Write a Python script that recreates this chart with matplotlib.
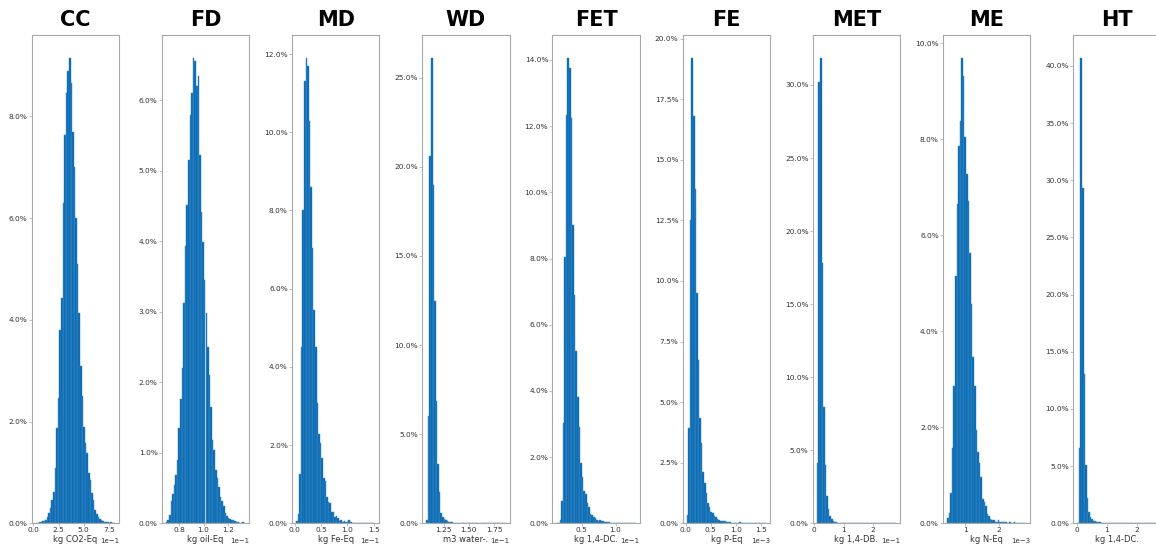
import numpy as np
import matplotlib
matplotlib.use("Agg")
import matplotlib.pyplot as plt
from matplotlib.ticker import PercentFormatter, ScalarFormatter

titles = ["CC", "FD", "MD", "WD", "FET", "FE", "MET", "ME", "HT"]
xlabels = ["kg CO2-Eq", "kg oil-Eq", "kg Fe-Eq", "m3 water-.", "kg 1,4-DC.",
           "kg P-Eq", "kg 1,4-DB.", "kg N-Eq", "kg 1,4-DC."]

# data range (min, max) of each impact category
ranges = [(0.0227, 0.810), (0.069, 0.1341), (0.0025, 0.153), (0.1077, 0.1864),
          (0.0127, 0.130), (0.00002, 0.00159), (0.009, 0.278), (0.000455, 0.00281),
          (0.005, 2.67)]

# share of samples per bin (%), 50 bins each
h_cc = [0.01, 0.01, 0.02, 0.02, 0.04, 0.05, 0.06, 0.12, 0.2, 0.3,
        0.46, 0.62, 1.08, 1.87, 2.46, 3.8, 4.43, 6.3, 7.64, 8.46,
        8.9, 9.15, 8.66, 7.7, 7.0, 6.0, 5.1, 4.13, 3.1, 2.5,
        1.9, 1.57, 1.38, 0.98, 0.85, 0.6, 0.45, 0.26, 0.18, 0.13,
        0.08, 0.06, 0.04, 0.03, 0.02, 0.02, 0.01, 0.02, 0.01, 0.01]
h_fd = [0.02, 0.05, 0.12, 0.31, 0.42, 0.54, 0.69, 0.9, 1.35, 1.77,
        2.2, 3.12, 3.93, 4.52, 5.15, 5.79, 6.1, 6.6, 6.56, 6.2,
        6.35, 5.22, 4.42, 3.99, 3.45, 2.98, 2.5, 2.1, 1.65, 1.18,
        1.04, 0.76, 0.64, 0.52, 0.38, 0.31, 0.24, 0.15, 0.1, 0.08,
        0.06, 0.05, 0.04, 0.03, 0.02, 0.02, 0.01, 0.01, 0.02, 0.01]
h_md = [0.05, 0.24, 1.26, 4.52, 8.0, 11.3, 11.9, 11.7, 10.3, 8.6,
        7.03, 5.46, 4.52, 3.07, 2.28, 2.05, 1.66, 1.15, 1.07, 0.66,
        0.55, 0.53, 0.3, 0.28, 0.17, 0.19, 0.13, 0.07, 0.08, 0.04,
        0.07, 0.04, 0.03, 0.08, 0.03, 0.02, 0.02, 0.01, 0.01, 0.01,
        0.01, 0.01, 0.01, 0.01, 0.0, 0.01, 0.0, 0.01, 0.0, 0.01]
h_wd = [0.19, 6.0, 20.6, 26.1, 19.0, 12.45, 6.84, 3.33, 1.78, 0.6,
        0.34, 0.24, 0.19, 0.11, 0.09, 0.06, 0.05, 0.04, 0.04, 0.03,
        0.03, 0.02, 0.02, 0.01, 0.01, 0.01, 0.01, 0.01, 0.01, 0.01,
        0.01, 0.01, 0.01, 0.0, 0.01, 0.0, 0.01, 0.0, 0.0, 0.01,
        0.0, 0.0, 0.01, 0.0, 0.0, 0.0, 0.0, 0.0, 0.0, 0.01]
h_fet = [0.01, 0.02, 0.1, 0.66, 3.02, 8.06, 12.35, 14.06, 13.76, 12.25,
         9.02, 6.9, 5.22, 3.83, 2.92, 1.83, 1.41, 0.99, 0.88, 0.6,
         0.48, 0.28, 0.25, 0.2, 0.15, 0.1, 0.08, 0.1, 0.06, 0.08,
         0.04, 0.05, 0.03, 0.03, 0.02, 0.02, 0.01, 0.01, 0.01, 0.01,
         0.01, 0.0, 0.01, 0.0, 0.01, 0.0, 0.0, 0.01, 0.0, 0.01]
h_fe = [0.34, 3.93, 12.5, 19.2, 16.8, 13.8, 9.5, 6.75, 4.34, 3.3,
        2.13, 1.68, 1.24, 0.85, 0.69, 0.48, 0.41, 0.3, 0.25, 0.17,
        0.14, 0.1, 0.11, 0.1, 0.1, 0.07, 0.06, 0.04, 0.03, 0.03,
        0.02, 0.03, 0.02, 0.04, 0.02, 0.01, 0.01, 0.01, 0.01, 0.01,
        0.0, 0.01, 0.0, 0.01, 0.0, 0.0, 0.01, 0.0, 0.0, 0.01]
h_met = [4.1, 30.2, 31.85, 17.8, 7.95, 4.0, 1.87, 1.0, 0.5, 0.27,
         0.16, 0.09, 0.06, 0.05, 0.04, 0.03, 0.02, 0.02, 0.01, 0.01,
         0.01, 0.01, 0.01, 0.0, 0.01, 0.0, 0.0, 0.01, 0.0, 0.0,
         0.0, 0.0, 0.0, 0.0, 0.0, 0.0, 0.0, 0.0, 0.0, 0.0,
         0.0, 0.0, 0.0, 0.0, 0.0, 0.0, 0.0, 0.0, 0.0, 0.01]
h_me = [0.1, 0.21, 0.63, 1.56, 2.86, 5.14, 6.64, 7.85, 8.37, 9.69,
        9.31, 8.05, 7.28, 6.71, 5.63, 4.57, 3.47, 2.86, 1.95, 1.49,
        1.26, 0.96, 0.5, 0.45, 0.35, 0.19, 0.15, 0.08, 0.07, 0.06,
        0.03, 0.03, 0.06, 0.03, 0.02, 0.02, 0.03, 0.02, 0.01, 0.02,
        0.01, 0.01, 0.02, 0.01, 0.01, 0.01, 0.0, 0.01, 0.01, 0.01]
h_ht = [0.05, 6.57, 40.7, 29.3, 13.1, 5.1, 2.19, 1.02, 0.58, 0.35,
        0.23, 0.18, 0.12, 0.1, 0.08, 0.06, 0.05, 0.04, 0.03, 0.03,
        0.02, 0.01, 0.01, 0.01, 0.01, 0.01, 0.0, 0.01, 0.0, 0.0,
        0.0, 0.0, 0.0, 0.0, 0.0, 0.0, 0.0, 0.0, 0.0, 0.0,
        0.0, 0.0, 0.0, 0.0, 0.0, 0.0, 0.0, 0.0, 0.0, 0.01]
heights = [h_cc, h_fd, h_md, h_wd, h_fet, h_fe, h_met, h_me, h_ht]

xticks = [[0, 0.25, 0.5, 0.75], [0.08, 0.10, 0.12], [0, 0.05, 0.10, 0.15],
          [0.125, 0.150, 0.175], [0.05, 0.10], [0, 0.0005, 0.001, 0.0015],
          [0, 0.1, 0.2], [0.001, 0.002], [0, 1, 2]]
yticks = [[0, 2, 4, 6, 8], [0, 1, 2, 3, 4, 5, 6], [0, 2, 4, 6, 8, 10, 12],
          [0, 5, 10, 15, 20, 25], [0, 2, 4, 6, 8, 10, 12, 14],
          [0, 2.5, 5, 7.5, 10, 12.5, 15, 17.5, 20], [0, 5, 10, 15, 20, 25, 30],
          [0, 2, 4, 6, 8, 10], [0, 5, 10, 15, 20, 25, 30, 35, 40]]

W, H = 1156, 547
fig = plt.figure(figsize=(W / 100, H / 100), dpi=100)

bar_face = "#0064ae"
bar_edge = "#3f8cc8"
spine_c = "#a8a8a8"
text_c = "#333333"

for i in range(9):
    left = 31.6 + 130.2 * i
    ax = fig.add_axes([left / W, 23.7 / H, 87.4 / W, 488.6 / H])
    lo, hi = ranges[i]
    h = heights[i]
    edges = np.linspace(lo, hi, len(h) + 1)
    centers = 0.5 * (edges[:-1] + edges[1:])
    ax.hist(centers, bins=edges, weights=h, color=bar_face,
            edgecolor=bar_edge, linewidth=0.35)
    ax.set_xticks(xticks[i])
    ax.set_yticks(yticks[i])
    ax.yaxis.set_major_formatter(PercentFormatter(xmax=100, decimals=1))
    fmt = ScalarFormatter(useMathText=False)
    fmt.set_powerlimits((0, 0))
    ax.xaxis.set_major_formatter(fmt)
    ax.xaxis.get_offset_text().set_fontsize(5)
    ax.xaxis.get_offset_text().set_color(text_c)
    ax.tick_params(axis="both", labelsize=5.3, length=2, width=0.5, pad=1,
                   colors=spine_c, labelcolor=text_c)
    for s in ax.spines.values():
        s.set_color(spine_c)
        s.set_linewidth(0.8)
    ax.set_xlabel(xlabels[i], fontsize=6, color=text_c, labelpad=1)
    ax.set_title(titles[i], fontsize=15, fontweight="bold", pad=6)

fig.savefig("out.png", dpi=100)
